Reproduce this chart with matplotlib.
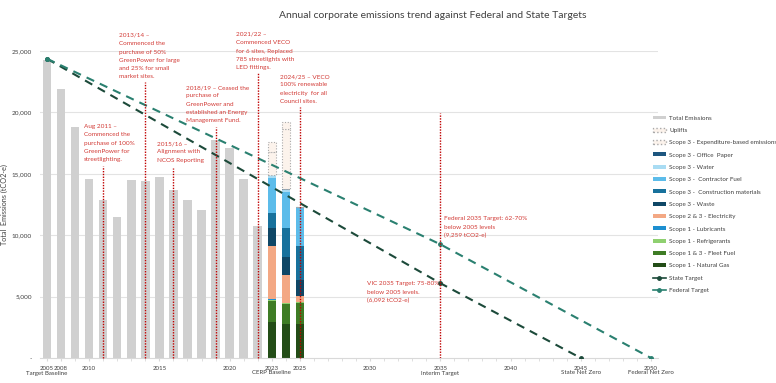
import matplotlib
matplotlib.use("Agg")
import matplotlib.pyplot as plt
from matplotlib.patches import Patch
from matplotlib.lines import Line2D
from matplotlib.transforms import blended_transform_factory

# ---------------- data ----------------
hist_years = [2005, 2008, 2009, 2010, 2011, 2012, 2013, 2014, 2015, 2016,
              2017, 2018, 2019, 2020, 2021, 2022]
total_emissions = [24300, 21900, 18850, 14580, 12880, 11520, 14480, 14400,
                   14750, 13700, 12880, 12070, 17750, 17070, 14570, 10710]

stack_years = [2023, 2024, 2025]
natural_gas = [2910, 2775, 2775]
fleet_fuel = [1765, 1630, 1735]
refrigerants = [60, 40, 40]
lubricants = [30, 25, 25]
electricity = [4335, 2325, 480]
waste = [1480, 1444, 1305]
construction = [1220, 2366, 2774]
contractor_fuel = [2860, 2904, 3124]
water = [210, 180, 0]
office_paper = [60, 40, 0]
expenditure = [1820, 4900, 0]
uplifts = [850, 570, 0]

state_years = [2005, 2035, 2045]
state_target = [24366, 6092, 0]
federal_years = [2005, 2035, 2050]
federal_target = [24366, 9259, 0]

tick_years = [2005, 2008, 2010, 2015, 2020, 2023, 2025, 2030, 2035, 2040, 2045, 2050]
milestone_years = [2005, 2023, 2035, 2045, 2050]
milestone_labels = ["Target Baseline", "CERP Baseline", "Interim Target",
                    "State Net Zero", "Federal Net Zero"]

annot_years = [2011, 2014, 2016, 2019, 2022, 2025]
annot_tops = [15660, 22500, 15500, 18840, 23250, 20470]
annot_texts = [
    "Aug 2011 \u2013\nCommenced the\npurchase of 100%\nGreenPower for\nstreetlighting.",
    "2013/14 \u2013\nCommenced the\npurchase of 50%\nGreenPower for large\nand 25% for small\nmarket sites.",
    "2015/16 \u2013\nAlignment with\nNCOS Reporting",
    "2018/19 \u2013 Ceased the\npurchase of\nGreenPower and\nestablished an Energy\nManagement Fund.",
    "2021/22 \u2013\nCommenced VECO\nfor 6 sites, Replaced\n785 streetlights with\nLED fittings.",
    "2024/25 \u2013 VECO\n100% renewable\nelectricity  for all\nCouncil sites.",
]
annot_text_x = [2.63, 5.12, 7.83, 9.9, 13.45, 16.58]
annot_text_y = [19050, 26470, 17660, 22230, 26550, 23125]

# ---------------- helpers ----------------
def pos(y):
    # category-like date axis: 2005 followed directly by 2008
    return 0 if y == 2005 else y - 2007

W, H = 776, 383
fig = plt.figure(figsize=(W / 100, H / 100), dpi=100)
ax = fig.add_axes([40 / W, (H - 358) / H, (658 - 40) / W, (358 - 51) / H])
ax.set_xlim(-0.5, 43.5)
ax.set_ylim(0, 25000)

FONT = "Lato"
red = "#d23a35"
bw = 0.6
LS = 1.82

# grid
for v in [5000, 10000, 15000, 20000, 25000]:
    ax.axhline(v, color="#e3e3e3", lw=0.8, zorder=0)

# historical grey bars
ax.bar([pos(y) for y in hist_years], total_emissions, width=bw, color="#d0d0d0", zorder=2)

# stacked bars
segments = [
    (natural_gas, "#234d17", "Scope 1 - Natural Gas"),
    (fleet_fuel, "#3e7c25", "Scope 1 & 3 - Fleet Fuel"),
    (refrigerants, "#8fd070", "Scope 1 - Refrigerants"),
    (lubricants, "#1d8fd0", "Scope 1 - Lubricants"),
    (electricity, "#f3a884", "Scope 2 & 3 - Electricity"),
    (waste, "#0f4766", "Scope 3 - Waste"),
    (construction, "#17719c", "Scope 3 -  Construction materials"),
    (contractor_fuel, "#5cbcea", "Scope 3 -  Contractor Fuel"),
    (water, "#a9dcf3", "Scope 3 - Water"),
    (office_paper, "#1d567f", "Scope 3 - Office  Paper"),
]
xs = [pos(y) for y in stack_years]
bottom = [0, 0, 0]
for vals, col, lab in segments:
    ax.bar(xs, vals, width=bw, bottom=bottom, color=col, zorder=2)
    bottom = [b + v for b, v in zip(bottom, vals)]
for vals in [expenditure, uplifts]:
    ax.bar(xs, vals, width=bw, bottom=bottom, facecolor="#fcf3ec",
           edgecolor="#a9a9a9", linestyle=(0, (1, 1.5)), linewidth=0.8, zorder=2)
    bottom = [b + v for b, v in zip(bottom, vals)]

# targets
ax.plot([pos(y) for y in state_years], state_target, color="#1c4a3a", lw=1.5,
        ls=(0, (4, 3)), marker="o", ms=2.5, zorder=4)
ax.plot([pos(y) for y in federal_years], federal_target, color="#2a8070", lw=1.5,
        ls=(0, (4, 3)), marker="o", ms=2.5, zorder=4)

# annotation lines and texts
for yr, top, txt, tx, ty in zip(annot_years, annot_tops, annot_texts, annot_text_x, annot_text_y):
    ax.plot([pos(yr), pos(yr)], [0, top], color="#c00000", lw=1.0, ls=(0, (1, 1)),
            zorder=5, clip_on=False)
    ax.text(tx, ty, txt, color=red, fontsize=4.6, family=FONT, va="top", ha="left",
            linespacing=LS, zorder=6, clip_on=False)

ax.plot([pos(2035), pos(2035)], [0, 19980], color="#c00000", lw=1.0, ls=(0, (1, 1)), zorder=5)
ax.text(28.26, 11540, "Federal 2035 Target: 62-70%\nbelow 2005 levels\n(9,259 tCO2-e)",
        color=red, fontsize=4.6, family=FONT, va="top", ha="left", linespacing=LS, zorder=6)
ax.text(22.78, 6240, "VIC 2035 Target: 75-80%\nbelow 2005 levels.\n(6,092 tCO2-e)",
        color=red, fontsize=4.6, family=FONT, va="top", ha="left", linespacing=LS, zorder=6)

# axes styling
for s in ["top", "right", "left"]:
    ax.spines[s].set_visible(False)
ax.spines["bottom"].set_color("#d9d9d9")
ax.spines["bottom"].set_linewidth(0.8)
ax.set_xticks([pos(y) for y in tick_years])
ax.set_xticklabels([str(y) for y in tick_years], fontsize=4.4, family=FONT, color="#404040")
ax.set_xticks(range(0, 44), minor=True)
ax.tick_params(axis="x", which="both", length=2.5, color="#d9d9d9", pad=3)
trans = blended_transform_factory(ax.transData, ax.transAxes)
for yr, lab in zip(milestone_years, milestone_labels):
    ax.text(pos(yr), -(373 - 358) / (358 - 51), lab, transform=trans, ha="center", va="center",
            fontsize=4.4, family=FONT, color="#404040")
ax.set_yticks([0, 5000, 10000, 15000, 20000, 25000])
ax.set_yticklabels(["-", "5,000", "10,000", "15,000", "20,000", "25,000"],
                   fontsize=4.6, family=FONT, color="#404040")
ax.tick_params(axis="y", length=0, pad=6)
ax.set_ylabel("Total  Emissions (tCO2-e)", fontsize=5.2, family=FONT, color="#404040")
ax.yaxis.set_label_coords(-(40 - 8) / (658 - 40), 0.5)

fig.text(433 / W, 1 - 15 / H, "Annual corporate emissions trend against Federal and State Targets",
         ha="center", va="center", fontsize=7.5, family=FONT, color="#404040")

# legend
handles = [Patch(facecolor="#d0d0d0", label="Total Emissions"),
           Patch(facecolor="#fcf3ec", edgecolor="#a9a9a9", linestyle=":", label="Uplifts"),
           Patch(facecolor="#fcf3ec", edgecolor="#a9a9a9", linestyle=":",
                 label="Scope 3 - Expenditure-based emissions")]
for vals, col, lab in reversed(segments):
    handles.append(Patch(facecolor=col, label=lab))
handles.append(Line2D([], [], color="#1c4a3a", marker="o", ms=2.5, lw=1.2, label="State Target"))
handles.append(Line2D([], [], color="#2a8070", marker="o", ms=2.5, lw=1.2, label="Federal Target"))
fig.legend(handles=handles, loc="upper left", bbox_to_anchor=(650 / W, 1 - 113 / H),
           frameon=False, prop={"family": FONT, "size": 4.5}, labelspacing=1.14,
           handlelength=2.2, handleheight=0.6, handletextpad=0.45, borderaxespad=0,
           labelcolor="#404040")

fig.savefig("out.png", dpi=100)
